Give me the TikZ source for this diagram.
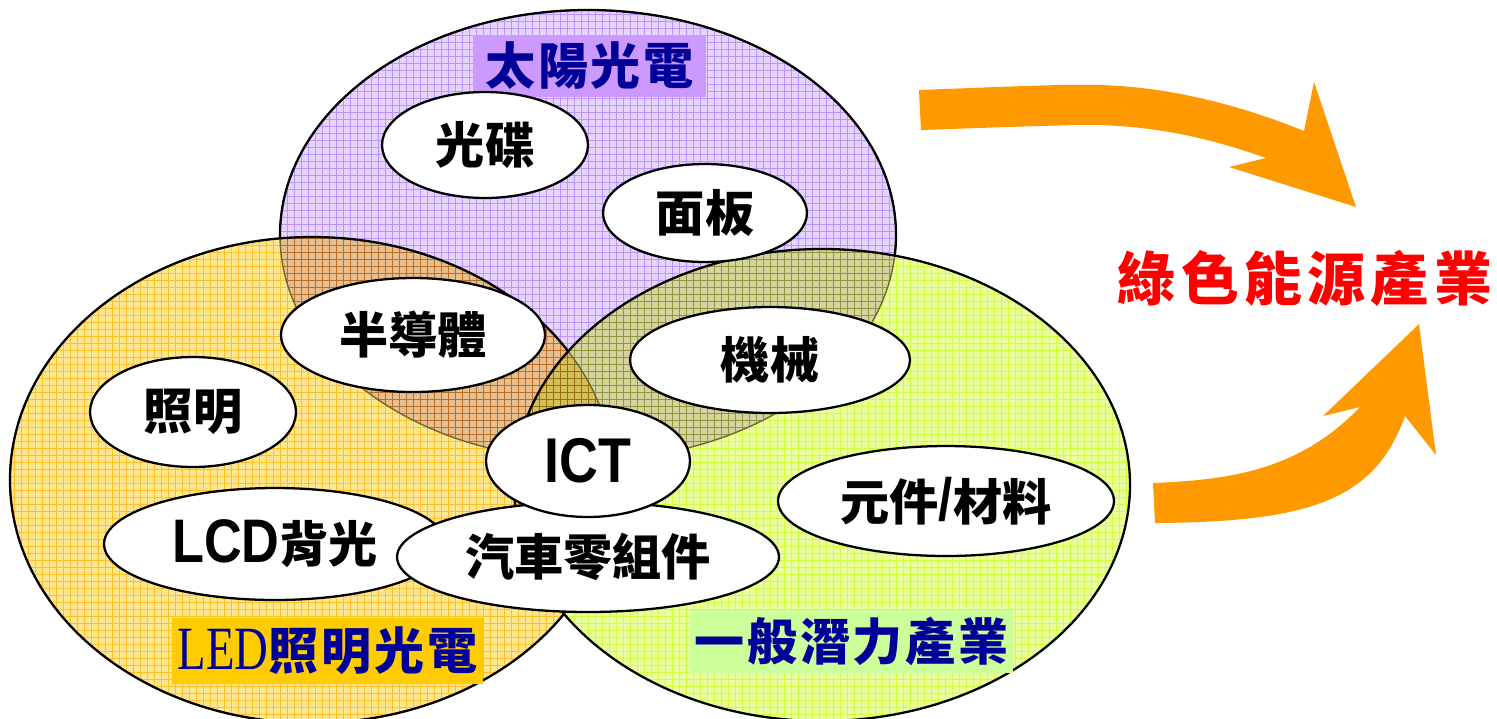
\documentclass[tikz,border=0pt]{standalone}
\usepackage{fontspec}
\setmainfont{Liberation Sans}
\newfontfamily\cjk{Noto Sans CJK TC}
\newfontfamily\arialn{Liberation Sans}[FakeStretch=0.85]
\newfontfamily\timesn{Liberation Serif}[FakeStretch=0.76]
\usetikzlibrary{shapes.geometric}
\definecolor{purpleF}{RGB}{230,212,255}
\definecolor{purpleG}{RGB}{208,180,255}
\definecolor{orangeF}{RGB}{255,230,145}
\definecolor{orangeG}{RGB}{255,212,70}
\definecolor{greenF}{RGB}{236,255,160}
\definecolor{greenG}{RGB}{222,255,100}
\definecolor{labP}{RGB}{204,153,255}
\definecolor{labO}{RGB}{255,204,0}
\definecolor{labG}{RGB}{204,255,153}
\definecolor{navy}{RGB}{0,0,153}
\definecolor{arrowC}{RGB}{255,153,0}
\definecolor{faint}{RGB}{110,105,50}
\newcommand\gap{\hspace{1.6pt}}
\tikzset{
  bub/.style={ellipse, draw=black, line width=1.3pt, fill=white, inner sep=0pt,
    font=\cjk\bfseries\fontsize{28}{30}\selectfont},
  lab/.style={rectangle, inner sep=0pt, text=navy,
    font=\cjk\bfseries\fontsize{28.5}{30}\selectfont},
  gridline/.style={line width=0.35pt},
  strong/.style={draw=black, line width=1.3pt},
  weak/.style={draw=faint, line width=0.8pt}
}
\begin{document}
\begin{tikzpicture}[x=0.02cm, y=-0.02cm]
\useasboundingbox (0,0) rectangle (1497,718);

% ---- coloured sets (multiply blend) ----
\begin{scope}[blend mode=multiply]
  \fill[purpleF] (588,235) ellipse [x radius=308, y radius=225];
  \begin{scope}
    \clip (588,235) ellipse [x radius=308, y radius=225];
    \draw[purpleG, gridline, step=0.14cm] (270,0) grid (910,470);
  \end{scope}
  \fill[orangeF] (312,480) ellipse [x radius=302, y radius=243];
  \begin{scope}
    \clip (312,480) ellipse [x radius=302, y radius=243];
    \draw[orangeG, gridline, step=0.14cm] (0,230) grid (620,730);
  \end{scope}
  \fill[greenF] (822,485) ellipse [x radius=308, y radius=236];
  \begin{scope}
    \clip (822,485) ellipse [x radius=308, y radius=236];
    \draw[greenG, gridline, step=0.14cm] (510,240) grid (1140,730);
  \end{scope}
\end{scope}

% ---- outlines: faint where covered, strong elsewhere ----
\draw[weak] (588,235) ellipse [x radius=308, y radius=225];
\draw[weak] (312,480) ellipse [x radius=302, y radius=243];
\begin{scope}[even odd rule]
  \clip (-50,-50) rectangle (1550,800) (312,480) ellipse [x radius=302, y radius=243];
  \clip (-50,-50) rectangle (1550,800) (822,485) ellipse [x radius=308, y radius=236];
  \draw[strong] (588,235) ellipse [x radius=308, y radius=225];
\end{scope}
\begin{scope}[even odd rule]
  \clip (-50,-50) rectangle (1550,800) (822,485) ellipse [x radius=308, y radius=236];
  \draw[strong] (312,480) ellipse [x radius=302, y radius=243];
\end{scope}
\draw[strong] (822,485) ellipse [x radius=308, y radius=236];

% ---- set labels ----
\node[lab, fill=labP, minimum width=4.66cm, minimum height=1.24cm] (solar) at (589.5,66) {太\gap 陽\gap 光\gap 電};
\node[lab, fill=labO, minimum width=6.22cm, minimum height=1.32cm] (led) at (327.5,651) {{\timesn\mdseries\fontsize{35}{36}\selectfont LED}照\gap 明\gap 光\gap 電};
\node[lab, fill=labG, minimum width=6.46cm, minimum height=1.26cm] (general) at (851.5,641.5) {一\gap 般\gap 潛\gap 力\gap 產\gap 業};

% ---- white items ----
\node[bub, minimum width=4.12cm, minimum height=2.12cm] (disc) at (485,145) {光碟};
\node[bub, minimum width=4.08cm, minimum height=1.96cm] (panel) at (705,213) {面板};
\node[bub, minimum width=5.28cm, minimum height=2.28cm] (semi) at (413,335) {半導體};
\node[bub, minimum width=4.12cm, minimum height=2.20cm] (light) at (193,412) {照明};
\node[bub, minimum width=5.60cm, minimum height=2.12cm] (mach) at (770,360) {機械};
\node[bub, minimum width=6.84cm, minimum height=2.24cm] (lcd) at (275,544) {{\arialn\bfseries\fontsize{35}{36}\selectfont LCD}背光};
\node[bub, minimum width=7.64cm, minimum height=2.20cm] (auto) at (588,557) {汽車零組件};
\node[bub, minimum width=4.08cm, minimum height=2.24cm] (ict) at (588,461) {{\arialn\bfseries\fontsize{36}{38}\selectfont ICT}};
\node[bub, minimum width=6.72cm, minimum height=2.20cm] (comp) at (946,501) {元件{\arialn\bfseries\fontsize{34}{36}\selectfont /}材料};

% ---- arrows ----
\fill[arrowC] (919,90) .. controls (1000,87) and (1060,84) .. (1100,85)
  .. controls (1170,87) and (1240,105) .. (1304,131) -- (1314,82) -- (1356,207)
  -- (1229,167) -- (1266,158) .. controls (1210,138) and (1150,124) .. (1080,125)
  .. controls (1030,126) and (980,128) .. (921,130) -- cycle;
\fill[arrowC] (1155,523) -- (1153,483) .. controls (1230,480) and (1300,470) .. (1360,407)
  -- (1323,416) -- (1419,324) -- (1436,455) -- (1405,416)
  .. controls (1375,500) and (1310,522) .. (1155,523) -- cycle;

% ---- result ----
\node[text=red, font=\cjk\bfseries\fontsize{33}{36}\selectfont, inner sep=0pt] (green) at (1305,278)
  {綠\hspace{3pt}色\hspace{3pt}能\hspace{3pt}源\hspace{3pt}產\hspace{3pt}業};
\end{tikzpicture}
\end{document}
